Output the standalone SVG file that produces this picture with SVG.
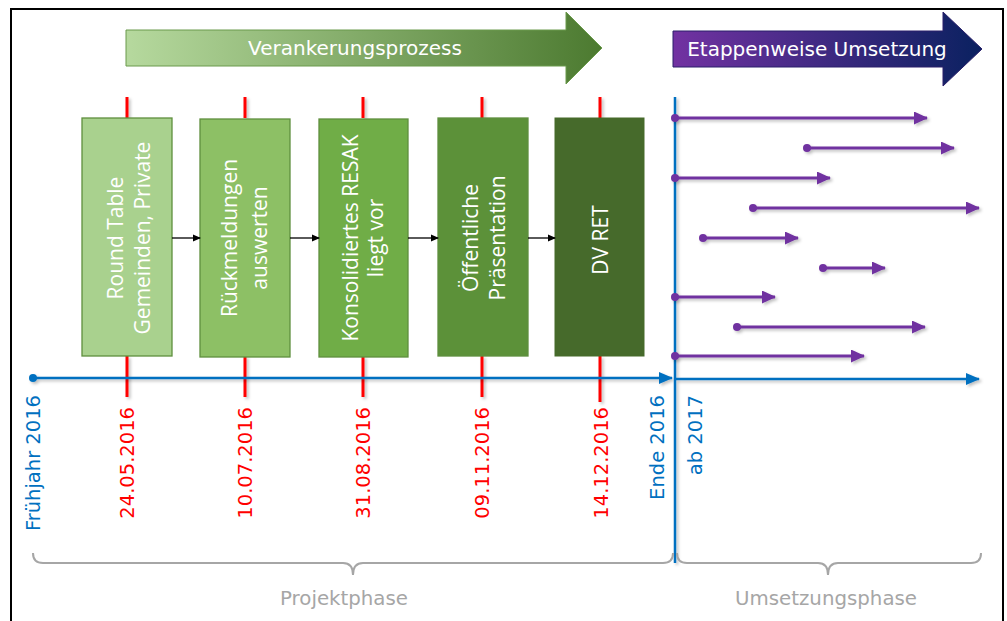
<svg xmlns="http://www.w3.org/2000/svg" width="1007" height="621" viewBox="0 0 1007 621">
<style>
.box{stroke:#5f8f3e;stroke-width:1.3}
.bt{font-family:"Open Sans","DejaVu Sans",sans-serif;font-size:21px;fill:#ffffff;text-anchor:middle}
.lbl{font-family:"DejaVu Sans",sans-serif;font-size:19.5px;text-anchor:end}
.red{fill:#ff0000}
.blue{fill:#0070c0}
.tick{stroke:#ff0000;stroke-width:3}
.pl{stroke:#7030a0;stroke-width:3;fill:none}
.pd{fill:#7030a0}
.brace{stroke:#a6a6a6;stroke-width:2;fill:none}
.ph{font-family:"DejaVu Sans",sans-serif;font-size:19.8px;fill:#a6a6a6;text-anchor:middle}
.hd{font-family:"DejaVu Sans",sans-serif;font-size:20px;fill:#ffffff}
</style>
<defs>
<linearGradient id="gG" x1="0" y1="0" x2="1" y2="0">
<stop offset="0" stop-color="#b6d99e"/>
<stop offset="1" stop-color="#4c7a30"/>
</linearGradient>
<linearGradient id="gP" x1="0" y1="0" x2="1" y2="0">
<stop offset="0" stop-color="#7232a2"/>
<stop offset="1" stop-color="#0a2160"/>
</linearGradient>
<marker id="mB" markerWidth="8" markerHeight="8" refX="7" refY="4" orient="auto" markerUnits="userSpaceOnUse">
<path d="M0,0.5 L8,4 L0,7.5 Z" fill="#000"/>
</marker>
<marker id="mP" markerWidth="14" markerHeight="13" refX="13" refY="6.5" orient="auto" markerUnits="userSpaceOnUse">
<path d="M0,0 L14,6.5 L0,13 Z" fill="#7030a0"/>
</marker>
<marker id="mL" markerWidth="14" markerHeight="12" refX="13" refY="6" orient="auto" markerUnits="userSpaceOnUse">
<path d="M0,0 L14,6 L0,12 Z" fill="#0070c0"/>
</marker>
<filter id="sh" x="-10%" y="-50%" width="120%" height="200%">
<feDropShadow dx="2" dy="2" stdDeviation="1.5" flood-color="#000" flood-opacity="0.25"/>
</filter>
</defs>

<rect x="11" y="9" width="992" height="620" fill="#ffffff" stroke="#000" stroke-width="2"/>

<g id="header-green">
<path d="M126,30 H566 V12 L602,48 L566,84 V66 H126 Z" fill="url(#gG)" stroke="#6b9a4c" stroke-width="1"/>
<text class="hd" x="355" y="55" text-anchor="middle">Verankerungsprozess</text>
</g>
<g id="header-purple">
<path d="M673,31 H943 V12 L982,49 L943,86 V67 H673 Z" fill="url(#gP)" stroke="#2a1f6a" stroke-width="1"/>
<text class="hd" x="817" y="56" text-anchor="middle">Etappenweise Umsetzung</text>
</g>

<g id="ticks" filter="url(#sh)">
<line class="tick" x1="127" y1="97" x2="127" y2="118"/>
<line class="tick" x1="245" y1="97" x2="245" y2="118"/>
<line class="tick" x1="363" y1="97" x2="363" y2="118"/>
<line class="tick" x1="482" y1="97" x2="482" y2="118"/>
<line class="tick" x1="600" y1="97" x2="600" y2="118"/>
<line class="tick" x1="127" y1="356" x2="127" y2="397"/>
<line class="tick" x1="245" y1="356" x2="245" y2="397"/>
<line class="tick" x1="363" y1="356" x2="363" y2="397"/>
<line class="tick" x1="482" y1="356" x2="482" y2="397"/>
<line class="tick" x1="600" y1="356" x2="600" y2="402"/>
</g>

<g id="box1">
<rect class="box" x="82" y="118" width="90" height="238" fill="#a9d18e"/>
<text class="bt" transform="translate(127,238) rotate(-90)"><tspan x="0" y="-4">Round Table</tspan><tspan x="0" y="23">Gemeinden,  Private</tspan></text>
</g>
<g id="box2">
<rect class="box" x="200" y="119" width="90" height="238" fill="#8dc065"/>
<text class="bt" transform="translate(245,238) rotate(-90)"><tspan x="0" y="-8">Rückmeldungen</tspan><tspan x="0" y="22">auswerten</tspan></text>
</g>
<g id="box3">
<rect class="box" x="319" y="119" width="89" height="238" fill="#70ad47"/>
<text class="bt" transform="translate(363,238) rotate(-90)"><tspan x="0" y="-5">Konsolidiertes RESAK</tspan><tspan x="0" y="20">liegt vor</tspan></text>
</g>
<g id="box4">
<rect class="box" x="438" y="118" width="90" height="238" fill="#5c9139"/>
<text class="bt" transform="translate(483,238) rotate(-90)"><tspan x="0" y="-5">Öffentliche</tspan><tspan x="0" y="22">Präsentation</tspan></text>
</g>
<g id="box5">
<rect x="555" y="118" width="89" height="238" fill="#466a2b" stroke="#466a2b" stroke-width="1"/>
<text class="bt" transform="translate(600,240) rotate(-90)"><tspan x="0" y="8">DV RET</tspan></text>
</g>

<g id="connectors">
<line x1="172" y1="238" x2="200" y2="238" stroke="#000" stroke-width="1.3" marker-end="url(#mB)"/>
<line x1="290" y1="238" x2="319" y2="238" stroke="#000" stroke-width="1.3" marker-end="url(#mB)"/>
<line x1="408" y1="238" x2="438" y2="238" stroke="#000" stroke-width="1.3" marker-end="url(#mB)"/>
<line x1="528" y1="238" x2="555" y2="238" stroke="#000" stroke-width="1.3" marker-end="url(#mB)"/>
</g>

<g id="timeline" filter="url(#sh)">
<line x1="33" y1="378" x2="672" y2="378" stroke="#0070c0" stroke-width="2.5" marker-end="url(#mL)"/>
<circle cx="33" cy="378" r="4" fill="#0070c0"/>
<line x1="676" y1="379" x2="979" y2="379" stroke="#0070c0" stroke-width="2.5" marker-end="url(#mL)"/>
<line x1="675" y1="97" x2="675" y2="563" stroke="#0070c0" stroke-width="2.5"/>
</g>

<g id="impl-arrows" filter="url(#sh)">
<line class="pl" x1="675" y1="118" x2="927" y2="118" marker-end="url(#mP)"/><circle class="pd" cx="675" cy="118" r="4"/>
<line class="pl" x1="807" y1="148" x2="954" y2="148" marker-end="url(#mP)"/><circle class="pd" cx="807" cy="148" r="4"/>
<line class="pl" x1="675" y1="178" x2="830" y2="178" marker-end="url(#mP)"/><circle class="pd" cx="675" cy="178" r="4"/>
<line class="pl" x1="753" y1="208" x2="979" y2="208" marker-end="url(#mP)"/><circle class="pd" cx="753" cy="208" r="4"/>
<line class="pl" x1="703" y1="238" x2="798" y2="238" marker-end="url(#mP)"/><circle class="pd" cx="703" cy="238" r="4"/>
<line class="pl" x1="823" y1="268" x2="885" y2="268" marker-end="url(#mP)"/><circle class="pd" cx="823" cy="268" r="4"/>
<line class="pl" x1="675" y1="297" x2="775" y2="297" marker-end="url(#mP)"/><circle class="pd" cx="675" cy="297" r="4"/>
<line class="pl" x1="737" y1="327" x2="925" y2="327" marker-end="url(#mP)"/><circle class="pd" cx="737" cy="327" r="4"/>
<line class="pl" x1="675" y1="356" x2="864" y2="356" marker-end="url(#mP)"/><circle class="pd" cx="675" cy="356" r="4"/>
</g>

<g id="date-labels">
<text class="lbl blue" transform="translate(40,395) rotate(-90)">Frühjahr 2016</text>
<text class="lbl red" transform="translate(134,407) rotate(-90)">24.05.2016</text>
<text class="lbl red" transform="translate(252,407) rotate(-90)">10.07.2016</text>
<text class="lbl red" transform="translate(370,407) rotate(-90)">31.08.2016</text>
<text class="lbl red" transform="translate(489,407) rotate(-90)">09.11.2016</text>
<text class="lbl red" transform="translate(608,407) rotate(-90)">14.12.2016</text>
<text class="lbl blue" transform="translate(664,395) rotate(-90)">Ende 2016</text>
<text class="lbl blue" transform="translate(702,395) rotate(-90)">ab 2017</text>
</g>

<g id="phases">
<path class="brace" d="M33,553 Q33,563 43,563 L343,563 Q353,563 353,575 Q353,563 363,563 L663,563 Q673,563 673,553"/>
<path class="brace" d="M677,553 Q677,563 687,563 L818,563 Q828,563 828,575 Q828,563 838,563 L971,563 Q981,563 981,553"/>
<text class="ph" x="344" y="605">Projektphase</text>
<text class="ph" x="826" y="605">Umsetzungsphase</text>
</g>
</svg>
